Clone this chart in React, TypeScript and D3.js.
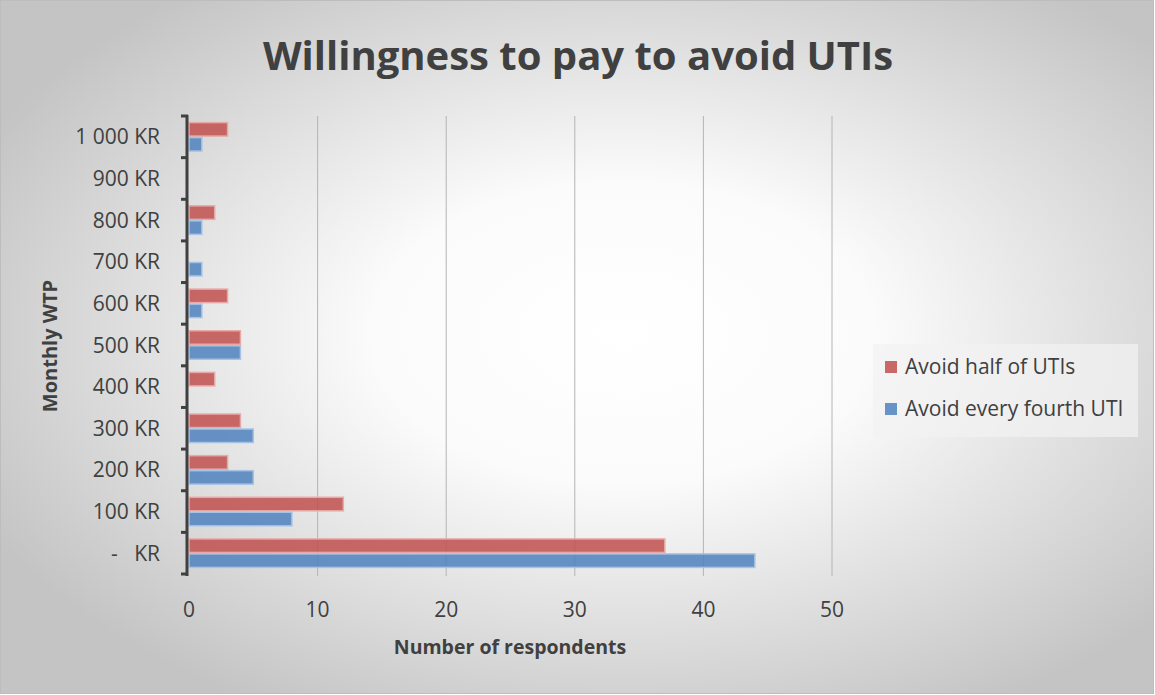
import React from 'react';
import * as d3 from 'd3';

// categories, top to bottom as they appear on the axis
const categories = ['1 000 KR', '900 KR', '800 KR', '700 KR', '600 KR', '500 KR', '400 KR', '300 KR', '200 KR', '100 KR', '-   KR'];
const seriesNames = ['Avoid half of UTIs', 'Avoid every fourth UTI'];
const halfOfUtis = [3, 0, 2, 0, 3, 4, 2, 4, 3, 12, 37];
const everyFourthUti = [1, 0, 1, 1, 1, 4, 0, 5, 5, 8, 44];
const xTicks = [0, 10, 20, 30, 40, 50];

const W = 1155;
const H = 695;
const FONT = '"Open Sans", sans-serif';
const TEXT = '#404040';
const fills = ['#c0504d', '#4f81bd'];
const strokes = ['#e6a9a7', '#a7c2e4'];

export default function App() {
    const x = d3.scaleLinear().domain([0, 50]).range([189, 832]);
    const y = d3.scaleBand().domain(categories).range([116, 574]).paddingInner(0.28).paddingOuter(0.14);
    const sub = d3.scaleBand().domain(seriesNames).range([0, y.bandwidth()]);
    const values = [halfOfUtis, everyFourthUti];
    const step = y.step();
    const tickYs = d3.range(categories.length + 1).map(i => 116 + i * step);

    return (
        <div style={{ position: 'absolute', left: 0, top: 0 }}>
            <svg width={W} height={H} style={{ display: 'block' }}>
                <defs>
                    <radialGradient id="bg" cx="0.54" cy="0.48" r="0.62">
                        <stop offset="0" stopColor="#ffffff" />
                        <stop offset="0.35" stopColor="#fbfbfb" />
                        <stop offset="1" stopColor="#c4c4c4" />
                    </radialGradient>
                </defs>
                <rect x={0.5} y={0.5} width={W - 2} height={H - 2} fill="url(#bg)" stroke="#bdbdbd" strokeWidth={1} />

                <text x={578} y={70} textAnchor="middle" fontFamily={FONT} fontWeight="bold" fontSize={40} fill={TEXT}>
                    Willingness to pay to avoid UTIs
                </text>

                {/* gridlines */}
                {xTicks.slice(1).map(t => (
                    <line key={t} x1={x(t)} x2={x(t)} y1={116} y2={576} stroke="#b4b4b4" strokeWidth={1} />
                ))}

                {/* bars */}
                {categories.map((c, i) => (
                    <g key={c} transform={`translate(0,${y(c)})`}>
                        {seriesNames.map((s, j) => values[j][i] > 0 && (
                            <rect key={s} x={x(0)} y={sub(s)! + 0.75} width={x(values[j][i]) - x(0)} height={sub.bandwidth() - 1.5}
                                fill={fills[j]} fillOpacity={0.85} stroke={strokes[j]} strokeWidth={1.5} />
                        ))}
                    </g>
                ))}

                {/* y axis */}
                <line x1={187} x2={187} y1={115} y2={576} stroke="#404040" strokeWidth={3} />
                {tickYs.map((ty, i) => (
                    <line key={i} x1={181} x2={188} y1={ty} y2={ty} stroke="#404040" strokeWidth={3} />
                ))}
                {categories.map(c => (
                    <text key={c} x={160} y={y(c)! + y.bandwidth() / 2 + 7.5} textAnchor="end" fontFamily={FONT} fontSize={21}
                        fill={TEXT} style={{ whiteSpace: 'pre' }}>{c}</text>
                ))}

                {/* x tick labels */}
                {xTicks.map(t => (
                    <text key={t} x={x(t)} y={617} textAnchor="middle" fontFamily={FONT} fontSize={21} fill={TEXT}>{t}</text>
                ))}

                <text x={510} y={654} textAnchor="middle" fontFamily={FONT} fontWeight="bold" fontSize={19.5} fill={TEXT}>
                    Number of respondents
                </text>
                <text transform="translate(57,346) rotate(-90)" textAnchor="middle" fontFamily={FONT} fontWeight="bold" fontSize={20} fill={TEXT}>
                    Monthly WTP
                </text>

                {/* legend */}
                <rect x={873} y={344} width={265} height={93} fill="#f2f2f2" fillOpacity={0.7} />
                {seriesNames.map((s, j) => (
                    <g key={s} transform={`translate(885,${361 + j * 42})`}>
                        <rect x={0} y={0} width={12} height={12} fill={fills[j]} fillOpacity={0.85} />
                        <text x={20} y={13} fontFamily={FONT} fontSize={21} fill={TEXT}>{s}</text>
                    </g>
                ))}
            </svg>
        </div>
    );
}
